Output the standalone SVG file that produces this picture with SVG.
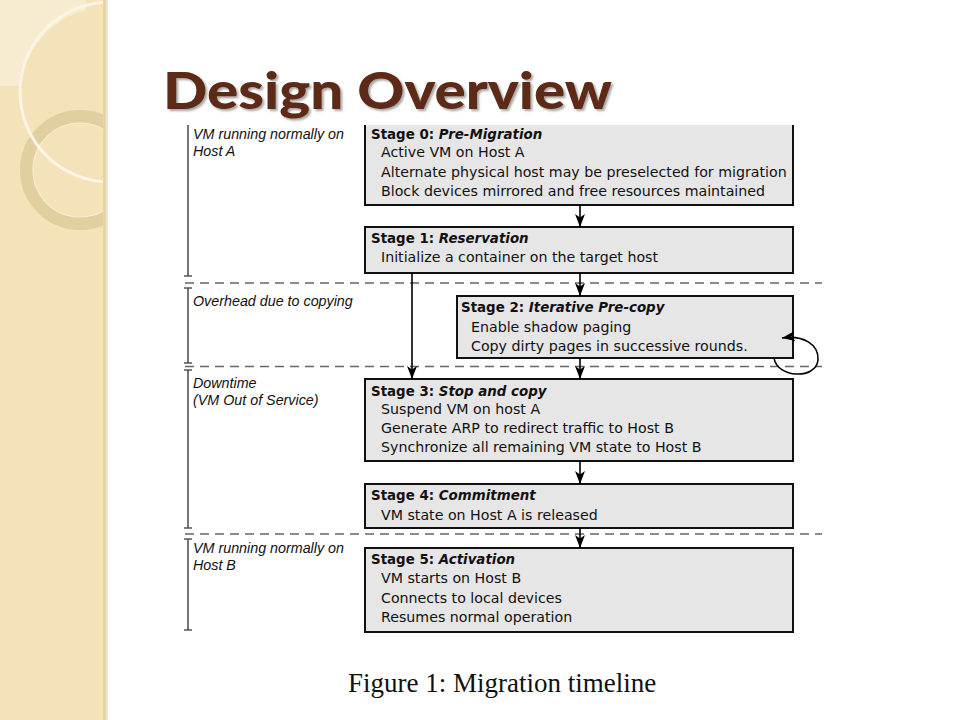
<svg xmlns="http://www.w3.org/2000/svg" width="960" height="720" viewBox="0 0 960 720">
<defs>
  <style>
    .box { fill: #e6e6e6; stroke: #111; stroke-width: 2; }
    .hd { font-family: "DejaVu Sans", Verdana, sans-serif; font-size: 13.4px; font-weight: bold; fill: #111; }
    .hd .it { font-style: italic; }
    .ln { font-family: "DejaVu Sans", Verdana, sans-serif; font-size: 14.2px; fill: #111; }
    .lbl { font-family: "Liberation Sans", Arial, sans-serif; font-size: 14.3px; font-style: italic; fill: #111; }
    .tl { stroke: #555; stroke-width: 1.6; fill: none; }
    .dash { stroke: #666; stroke-width: 1.6; stroke-dasharray: 9 6; fill: none; }
    .arr { stroke: #000; stroke-width: 1.6; fill: none; marker-end: url(#ah); }
  </style>
  <marker id="ah" viewBox="0 0 13 10" refX="13" refY="5" markerWidth="13" markerHeight="10" markerUnits="userSpaceOnUse" orient="auto">
    <path d="M0,0 L13,5 L0,10 L3.5,5 z" fill="#000"/>
  </marker>
  <clipPath id="side"><rect x="0" y="0" width="105" height="720"/></clipPath>
  <clipPath id="fig"><rect x="150" y="125" width="700" height="520"/></clipPath>
  <filter id="sh" x="-5%" y="-20%" width="110%" height="140%">
    <feDropShadow dx="2" dy="2" stdDeviation="1.2" flood-color="#000" flood-opacity="0.35"/>
  </filter>
</defs>

<rect x="0" y="0" width="960" height="720" fill="#ffffff"/>

<!-- sidebar -->
<g id="sidebar">
  <rect x="0" y="0" width="105" height="720" fill="#f4e3b8"/>
  <g clip-path="url(#side)">
    <path d="M0,0 H86 V10 A90 90 0 0 0 20 86 H0 Z" fill="#f8eed6" opacity="0.8"/>
    <circle cx="80" cy="170" r="53.5" fill="none" stroke="#e2cf9f" stroke-width="13"/>
    <circle cx="80" cy="170" r="47" fill="none" stroke="#f7ecd0" stroke-width="1.2"/>
    <circle cx="110" cy="92" r="90" fill="none" stroke="#fbf5e6" stroke-width="3"/>
  </g>
  <rect x="103" y="0" width="3" height="720" fill="#e7d5a6"/>
  <rect x="106" y="0" width="2" height="720" fill="#efe7d6"/>
</g>

<!-- title -->
<g id="title">
  <text x="163" y="109" font-family="Lato, 'Open Sans', sans-serif" font-weight="900" font-size="52" fill="#5b2a14" textLength="449" lengthAdjust="spacingAndGlyphs" filter="url(#sh)">Design Overview</text>
</g>

<g id="figure" clip-path="url(#fig)">
  <!-- timeline -->
  <g id="timeline">
    <path class="tl" d="M188,118 V276 M184,276 H192"/>
    <path class="tl" d="M184,288 H192 M188,288 V363 M184,363 H192"/>
    <path class="tl" d="M184,370 H192 M188,370 V528 M184,528 H192"/>
    <path class="tl" d="M184,539 H192 M188,539 V630 M184,630 H192"/>
    <text class="lbl" x="193" y="139">VM running normally on</text>
    <text class="lbl" x="193" y="156">Host A</text>
    <text class="lbl" x="193" y="306">Overhead due to copying</text>
    <text class="lbl" x="193" y="388">Downtime</text>
    <text class="lbl" x="193" y="405">(VM Out of Service)</text>
    <text class="lbl" x="193" y="553">VM running normally on</text>
    <text class="lbl" x="193" y="570">Host B</text>
  </g>

  <g id="separators">
    <path class="dash" d="M185,283 H822"/>
    <path class="dash" d="M185,366.5 H822"/>
    <path class="dash" d="M185,534 H822"/>
  </g>

  <g id="stage0">
    <rect class="box" x="365" y="110" width="428" height="95"/>
    <text class="hd" x="371" y="139">Stage 0: <tspan class="it">Pre-Migration</tspan></text>
    <text class="ln" x="381" y="157">Active VM on Host A</text>
    <text class="ln" x="381" y="177">Alternate physical host may be preselected for migration</text>
    <text class="ln" x="381" y="196">Block devices mirrored and free resources maintained</text>
  </g>

  <g id="stage1">
    <rect class="box" x="365" y="227" width="428" height="46"/>
    <text class="hd" x="371" y="243">Stage 1: <tspan class="it">Reservation</tspan></text>
    <text class="ln" x="381" y="262">Initialize a container on the target host</text>
  </g>

  <g id="stage2">
    <rect class="box" x="457" y="296" width="336" height="62"/>
    <text class="hd" x="461" y="312">Stage 2: <tspan class="it">Iterative Pre-copy</tspan></text>
    <text class="ln" x="471" y="332">Enable shadow paging</text>
    <text class="ln" x="471" y="351">Copy dirty pages in successive rounds.</text>
  </g>

  <g id="stage3">
    <rect class="box" x="365" y="379" width="428" height="82"/>
    <text class="hd" x="371" y="396">Stage 3: <tspan class="it">Stop and copy</tspan></text>
    <text class="ln" x="381" y="414">Suspend VM on host A</text>
    <text class="ln" x="381" y="433">Generate ARP to redirect traffic to Host B</text>
    <text class="ln" x="381" y="452">Synchronize all remaining VM state to Host B</text>
  </g>

  <g id="stage4">
    <rect class="box" x="365" y="484" width="428" height="44"/>
    <text class="hd" x="371" y="500">Stage 4: <tspan class="it">Commitment</tspan></text>
    <text class="ln" x="381" y="520">VM state on Host A is released</text>
  </g>

  <g id="stage5">
    <rect class="box" x="365" y="548" width="428" height="84"/>
    <text class="hd" x="371" y="564">Stage 5: <tspan class="it">Activation</tspan></text>
    <text class="ln" x="381" y="583">VM starts on Host B</text>
    <text class="ln" x="381" y="603">Connects to local devices</text>
    <text class="ln" x="381" y="622">Resumes normal operation</text>
  </g>

  <g id="connectors">
    <path class="arr" d="M580,205 V227"/>
    <path class="arr" d="M580,273 V296"/>
    <path class="arr" d="M412,273 V379"/>
    <path class="arr" d="M580,358 V379"/>
    <path class="arr" d="M580,461 V484"/>
    <path class="arr" d="M580,528 V548"/>
    <path class="arr" d="M774,358 C777,378 816,380 818,360 C819,344 803,335 782,338"/>
  </g>
</g>

<g id="caption">
  <text x="348" y="692" font-family="'Liberation Serif', 'Times New Roman', serif" font-size="27" fill="#111">Figure 1: Migration timeline</text>
</g>
</svg>
